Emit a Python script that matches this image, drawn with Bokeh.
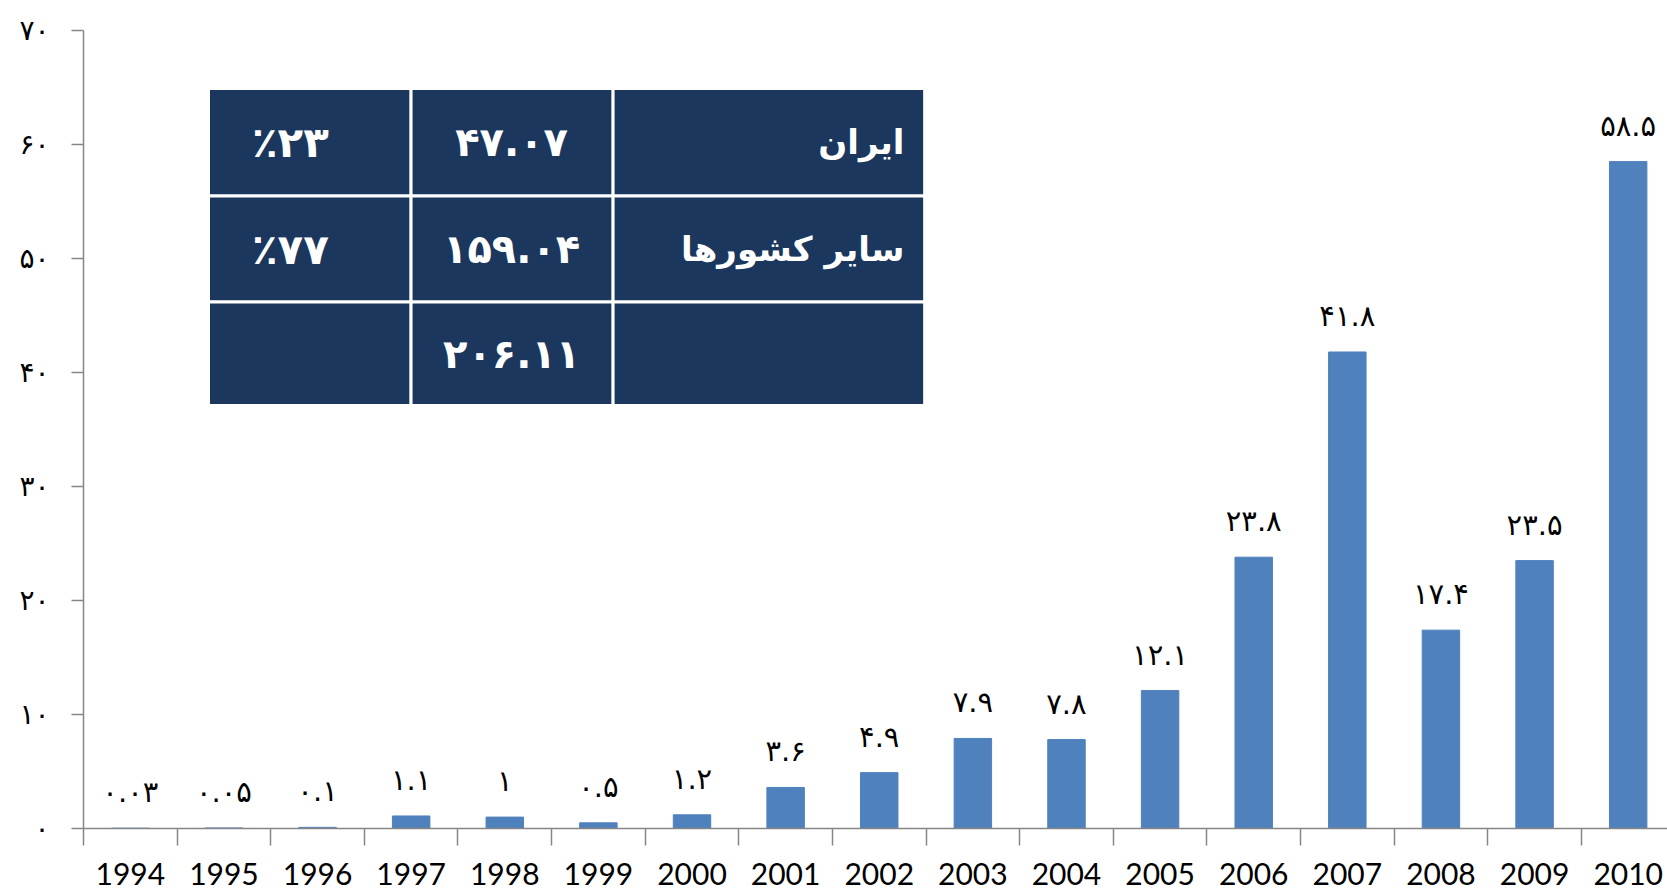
from bokeh.plotting import figure
from bokeh.models import Range1d, FixedTicker
from bokeh.core.properties import value
from bokeh.embed import file_html
from bokeh.resources import INLINE

# ---------------- data ----------------
years = ["1994", "1995", "1996", "1997", "1998", "1999", "2000", "2001", "2002",
         "2003", "2004", "2005", "2006", "2007", "2008", "2009", "2010"]
values = [0.03, 0.05, 0.1, 1.1, 1.0, 0.5, 1.2, 3.6, 4.9,
          7.9, 7.8, 12.1, 23.8, 41.8, 17.4, 23.5, 58.5]
value_labels = ["۰.۰۳", "۰.۰۵", "۰.۱", "۱.۱", "۱", "۰.۵", "۱.۲", "۳.۶", "۴.۹",
                "۷.۹", "۷.۸", "۱۲.۱", "۲۳.۸", "۴۱.۸", "۱۷.۴", "۲۳.۵", "۵۸.۵"]
y_ticks = [0, 10, 20, 30, 40, 50, 60, 70]
y_tick_labels = ["۰", "۱۰", "۲۰", "۳۰", "۴۰", "۵۰", "۶۰", "۷۰"]

table_names = ["ایران", "سایر کشورها", ""]
table_amounts = ["۴۷.۰۷", "۱۵۹.۰۴", "۲۰۶.۱۱"]
table_shares = ["٪۲۳", "٪۷۷", ""]

# ---------------- styling ----------------
BAR = "#4F81BD"
AXIS = "#868686"
NAVY = "#1B375E"
FA_FONT = "DejaVu Sans"

n = len(years)
centers = [i + 0.5 for i in range(n)]
bounds = [float(i) for i in range(n + 1)]

p = figure(frame_width=1584, frame_height=798, output_backend="svg", toolbar_location=None,
           x_range=Range1d(0, 16.92), y_range=Range1d(0, 70),
           min_border_left=83, min_border_right=0, min_border_top=30, min_border_bottom=64)
p.outline_line_color = None
p.grid.visible = False
p.background_fill_color = "white"

# bars
p.vbar(x=centers, top=values, width=0.4, bottom=0, fill_color=BAR, line_color=BAR)

# value labels
p.text(x=centers, y=values, text=value_labels, text_align="center", text_baseline="middle",
       y_offset=-36, text_font=value(FA_FONT), text_font_size="29px", text_color="black")

# ---------------- inset table ----------------
col_edges = [1.3355, 3.499, 5.657, 8.985]
row_edges = [64.91, 55.48, 46.18, 37.11]
for r in range(3):
    for c in range(3):
        p.quad(left=col_edges[c], right=col_edges[c + 1], top=row_edges[r], bottom=row_edges[r + 1],
               fill_color=NAVY, line_color="white", line_width=3)
row_mid = [(row_edges[r] + row_edges[r + 1]) / 2 for r in range(3)]
p.text(x=[8.77] * 3, y=row_mid, text=table_names, text_align="right", text_baseline="middle",
       text_font=value(FA_FONT), text_font_style="bold", text_font_size="34px", text_color="white")
p.text(x=[4.573] * 3, y=row_mid, text=table_amounts, text_align="center", text_baseline="middle",
       text_font=value(FA_FONT), text_font_style="bold", text_font_size="40px", text_color="white")
p.text(x=[2.21] * 3, y=row_mid, text=table_shares, text_align="center", text_baseline="middle",
       text_font=value(FA_FONT), text_font_style="bold", text_font_size="42px", text_color="white")

# ---------------- axes ----------------
xa = p.xaxis[0]
xa.ticker = FixedTicker(ticks=centers, minor_ticks=bounds)
xa.major_label_overrides = {c: y for c, y in zip(centers, years)}
xa.major_tick_line_color = None
xa.major_tick_out = 17
xa.major_tick_in = 0
xa.minor_tick_out = 17
xa.minor_tick_in = 0
xa.minor_tick_line_color = AXIS
xa.minor_tick_line_width = 1.5
xa.axis_line_color = AXIS
xa.axis_line_width = 1.5
xa.major_label_standoff = 17
xa.major_label_text_font = "Lato"
xa.major_label_text_font_size = "30px"
xa.major_label_text_color = "black"

ya = p.yaxis[0]
ya.ticker = FixedTicker(ticks=y_ticks)
ya.major_label_overrides = {t: l for t, l in zip(y_ticks, y_tick_labels)}
ya.major_tick_out = 12
ya.major_tick_in = 0
ya.minor_tick_line_color = None
ya.major_tick_line_color = AXIS
ya.major_tick_line_width = 1.5
ya.axis_line_color = AXIS
ya.axis_line_width = 1.5
ya.major_label_standoff = 22
ya.major_label_text_font = FA_FONT
ya.major_label_text_font_size = "28px"
ya.major_label_text_color = "black"

open("out.html", "w").write(file_html(p, INLINE))
